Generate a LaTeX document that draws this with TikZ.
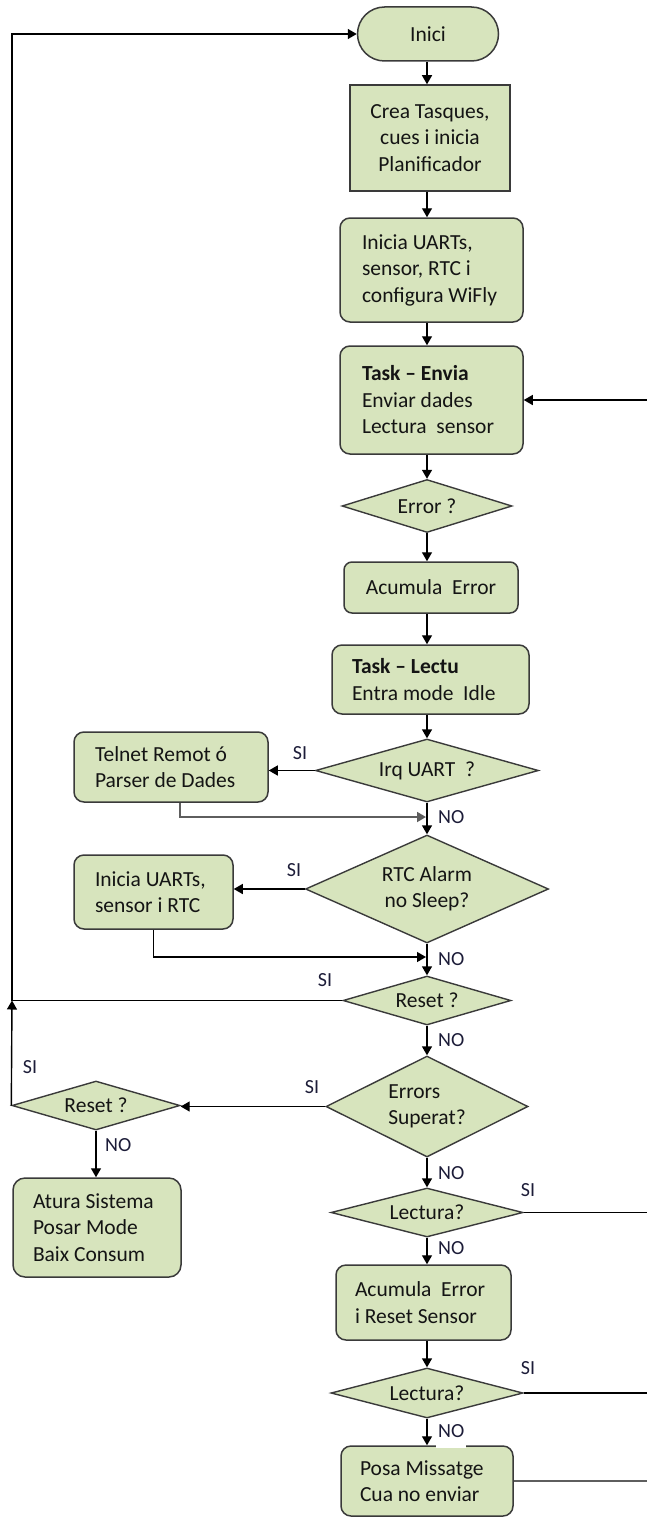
\documentclass[tikz,border=0pt]{standalone}
\usepackage{fontspec}
\setmainfont{Carlito}
\usetikzlibrary{shapes.geometric,arrows.meta}

\definecolor{boxfill}{HTML}{D7E4BD}
\definecolor{boxline}{HTML}{3A3A3A}
\definecolor{labeltext}{HTML}{1C1C38}
\definecolor{linkgray}{HTML}{5E5E5E}

\begin{document}
\begin{tikzpicture}[x=1pt,y=-1pt,
  every node/.style={font=\fontsize{21.5}{26.5}\selectfont, text=black!92},
  box/.style={draw=boxline, fill=boxfill, line width=1.5pt, inner sep=0pt},
  rbox/.style={box, rounded corners=10pt, align=flush left},
  dec/.style={diamond, draw=boxline, fill=boxfill, line width=1.4pt, inner sep=0pt, align=center},
  conn/.style={line width=1.4pt, draw=black},
  arr/.style={conn, -{Triangle[length=9pt,width=10pt]}},
  lbl/.style={font=\fontsize{20}{24}\selectfont, text=labeltext, inner sep=0pt},
]
\useasboundingbox (0,0) rectangle (647,1517);
\clip (0,0) rectangle (647,1517);

% reference lines of the layout
\coordinate (ax) at (427,0);
\coordinate (rx) at (653,0);
\coordinate (j)  at (12,1000.5);
\coordinate (m1) at (426,817);
\coordinate (m2) at (426,957);

% main column
\node[box, rounded corners=27pt, minimum width=141pt, minimum height=54pt] (inici) at (428,34) {Inici};
\node[box, minimum width=160pt, minimum height=106pt, align=center] (crea) at (430,138)
  {Crea Tasques,\\ cues i inicia\\ Planificador};
\node[rbox, text width=139pt, inner xsep=22pt, minimum height=104pt] (uarts) at (431.5,270)
  {Inicia UARTs,\\ sensor, RTC i\\ configura WiFly};
\node[rbox, text width=139pt, inner xsep=22pt, minimum height=108pt] (envia) at (431.5,400)
  {\textbf{Task – Envia}\\ Enviar dades\\ Lectura\ \ sensor};
\node[dec, shape aspect=3.2, minimum width=170pt, minimum height=53pt] (err) at (427,506) {Error ?};
\node[box, rounded corners=8pt, minimum width=174pt, minimum height=51pt] (acum) at (431,587.5)
  {Acumula\ \ Error};
\node[rbox, text width=157pt, inner xsep=20pt, minimum height=69pt] (lectu) at (430.5,679.5)
  {\textbf{Task – Lectu}\\ Entra mode\ \ Idle};
\node[dec, shape aspect=3.5, minimum width=223pt, minimum height=63pt] (irq) at (427,770.5) {Irq UART\ \ ?};
\node[dec, shape aspect=2.25, minimum width=243pt, minimum height=108pt] (rtc) at (427,889) {RTC Alarm\\ no Sleep?};
\node[dec, shape aspect=3.4, minimum width=168pt, minimum height=49pt] (rst) at (427,1000.5) {Reset ?};
\node[dec, shape aspect=2, minimum width=202pt, minimum height=101pt, align=left] (errs) at (427,1106.5) {Errors\\ Superat?};
\node[dec, shape aspect=3.9, minimum width=192pt, minimum height=49pt] (lec1) at (427,1212.5) {Lectura?};
\node[rbox, text width=137pt, inner xsep=19pt, minimum height=75pt] (accum2) at (423.5,1302.5)
  {Acumula\ \ Error\\ i Reset Sensor};
\node[dec, shape aspect=3.8, minimum width=192pt, minimum height=50pt] (lec2) at (427,1393) {Lectura?};
\node[rbox, text width=134pt, inner xsep=19pt, minimum height=70pt] (posa) at (427,1481)
  {Posa Missatge\\ Cua no enviar};

% side column
\node[rbox, text width=152pt, inner xsep=21pt, minimum height=70pt] (tel) at (171,767)
  {Telnet Remot ó\\ Parser de Dades};
\node[rbox, text width=117pt, inner xsep=21pt, minimum height=74pt] (ini2) at (153.5,892)
  {Inicia UARTs,\\ sensor i RTC};
\node[dec, shape aspect=3.4, minimum width=168pt, minimum height=49pt] (rst2) at (96,1105.5) {Reset ?};
\node[rbox, rounded corners=12pt, text width=128pt, inner xsep=20pt, minimum height=99pt] (atura) at (97,1227.5)
  {Atura Sistema\\ Posar Mode\\ Baix Consum};

% main flow
\draw[arr] (inici.south -| ax) -- (crea.north -| ax);
\draw[arr] (crea.south -| ax) -- (uarts.north -| ax);
\draw[arr] (uarts.south -| ax) -- (envia.north -| ax);
\draw[arr] (envia.south -| ax) -- (err.north);
\draw[arr] (err.south) -- (acum.north -| ax);
\draw[arr] (acum.south -| ax) -- (lectu.north -| ax);
\draw[arr] (lectu.south -| ax) -- (irq.north);
\draw[arr] (irq.south) -- (rtc.north);
\draw[arr] (rtc.south) -- (rst.north);
\draw[arr] (rst.south) -- (errs.north);
\draw[arr] (errs.south) -- (lec1.north);
\draw[arr] (lec1.south) -- (accum2.north -| ax);
\draw[arr] (accum2.south -| ax) -- (lec2.north);
\draw[arr] (lec2.south) -- (posa.north -| ax);

% branches to the left
\draw[arr] (irq.west) -- (irq.west -| tel.east);
\draw[arr, draw=linkgray, line width=1.8pt] ([xshift=9pt]tel.south) |- (m1);
\draw[arr] (rtc.west) -- (rtc.west -| ini2.east);
\draw[arr] (ini2.south) |- (m2);
\draw[arr] (errs.west) -- (errs.west -| rst2.east);
\draw[arr] (rst2.south) -- (atura.north -| rst2.south);

% restart loop
\draw[arr] (rst.west) -- (j) |- (inici.west);
\draw[arr] (rst2.west) -- (j);

% return loop on the right
\draw[conn, draw=linkgray, line width=1.8pt] (posa.east) -- (posa.east -| rx);
\draw[conn] (lec1.east) -- (lec1.east -| rx);
\draw[conn] (lec2.east) -- (lec2.east -| rx);
\draw[arr] (posa.east -| rx) |- (envia.east);

% branch labels
\node[lbl] (siIrq)  at (300,753)  {SI};
\node[lbl] (siRtc)  at (294,870)  {SI};
\node[lbl] (siRst)  at (325,980)  {SI};
\node[lbl] (siErr)  at (312,1087) {SI};
\node[lbl] (siRst2) at (30,1067)  {SI};
\node[lbl] (siLec1) at (528,1190) {SI};
\node[lbl] (siLec2) at (528,1368) {SI};
\node[lbl, anchor=west] (noIrq)  at (438,817)  {NO};
\node[lbl, anchor=west] (noRtc)  at (438,959)  {NO};
\node[lbl, anchor=west] (noRst)  at (438,1040) {NO};
\node[lbl, anchor=west] (noErr)  at (438,1173) {NO};
\node[lbl, anchor=west] (noLec1) at (438,1248) {NO};
\node[lbl, anchor=west] (noRst2) at (105,1145) {NO};
\node[lbl, anchor=base west, fill=white, inner xsep=2pt, text height=13.5pt, text depth=10.5pt]
  (noLec2) at (436,1437.5) {NO};
\end{tikzpicture}
\end{document}
